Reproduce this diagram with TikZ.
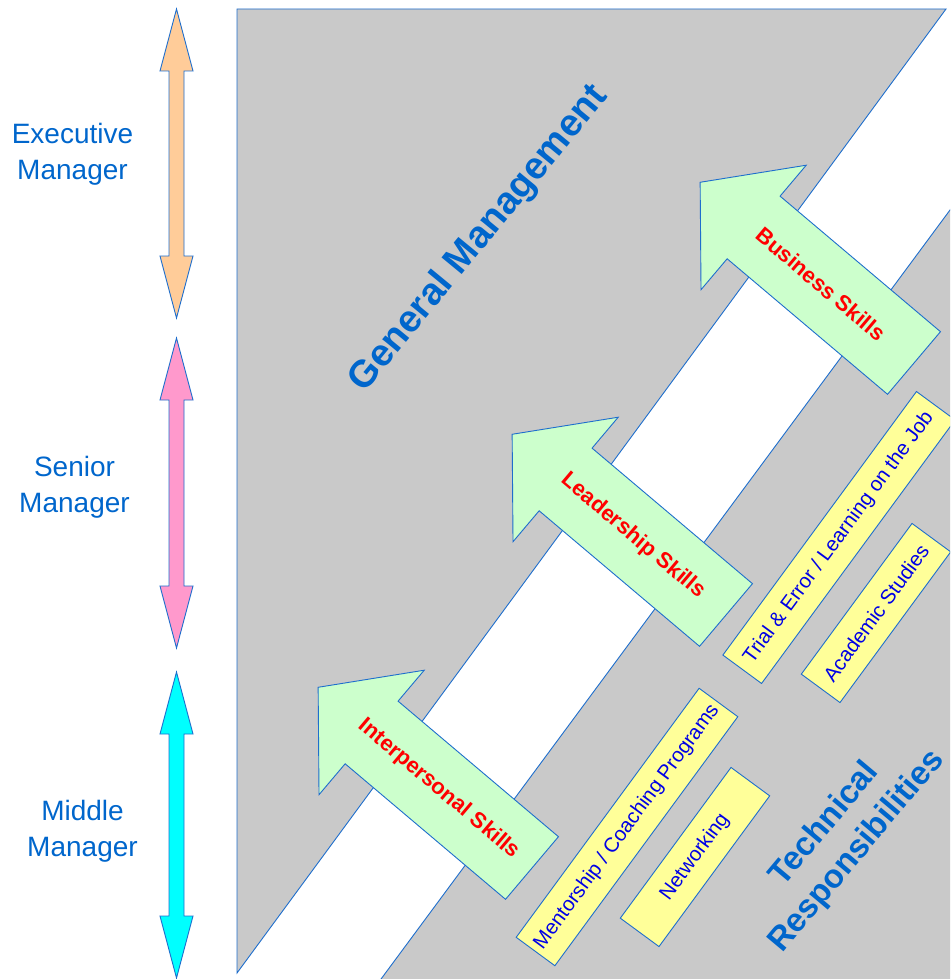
\documentclass[tikz,border=0pt]{standalone}
\usepackage{fontspec}
\setmainfont{Liberation Sans}
\definecolor{edgeblue}{RGB}{30,110,205}
\definecolor{bggray}{RGB}{201,201,201}
\definecolor{lblblue}{RGB}{0,102,204}
\definecolor{boxblue}{RGB}{0,0,230}
\definecolor{greenfill}{RGB}{204,255,204}
\definecolor{yellowfill}{RGB}{255,255,153}
\definecolor{orangefill}{RGB}{255,204,153}
\definecolor{pinkfill}{RGB}{255,153,204}
\definecolor{cyanfill}{RGB}{0,255,255}
\tikzset{
  edge/.style={draw=edgeblue, line width=0.9pt, line join=miter},
  garrow/.style={edge, fill=greenfill},
  dblarr/.style={edge},
  lbl/.style={text=lblblue, align=center, font=\fontsize{28}{36}\selectfont, inner sep=0pt},
  arrtxt/.style={text=red, font=\bfseries\fontsize{22}{26}\selectfont, rotate=-40.2, inner sep=0pt},
  ybox/.style={edge, fill=yellowfill, text=boxblue, font=\fontsize{20.4}{24}\selectfont, minimum height=48pt, inner sep=0pt, rotate=53.7},
  bigtxt/.style={text=lblblue, font=\bfseries\fontsize{38}{46}\selectfont, inner sep=0pt, align=center},
  greenarrow/.pic={\draw[garrow] (0,-41) -- (210,-41) -- (210,-81.5) -- (280,0) -- (210,81.5) -- (210,41) -- (0,41) -- cycle;}
}
\begin{document}
\begin{tikzpicture}[x=1pt,y=-1pt]
\useasboundingbox (0,0) rectangle (950,979);
\clip (0,0) rectangle (950,979);
% gray regions
\filldraw[edge, fill=bggray] (237,973) -- (237,9) -- (946,9) -- cycle;
\filldraw[edge, fill=bggray] (372.9,990) -- (960,196.5) -- (960,990) -- cycle;
% level arrows
\draw[dblarr, fill=orangefill] (176.5,9) -- (193,71) -- (184,71) -- (184,256) -- (193,256) -- (176.5,318) -- (160,256) -- (169,256) -- (169,71) -- (160,71) -- cycle;
\draw[dblarr, fill=pinkfill] (176.5,338) -- (193,400) -- (184,400) -- (184,586) -- (193,586) -- (176.5,648) -- (160,586) -- (169,586) -- (169,400) -- (160,400) -- cycle;
\draw[dblarr, fill=cyanfill] (176.5,672) -- (193,734) -- (184,734) -- (184,916) -- (193,916) -- (176.5,978) -- (160,916) -- (169,916) -- (169,734) -- (160,734) -- cycle;
% level labels
\node[lbl] (exec) at (72.5,154) {Executive\\Manager};
\node[lbl] (senior) at (74.5,487) {Senior\\Manager};
\node[lbl] (middle) at (82.5,831) {Middle\\Manager};
% big labels
\node[bigtxt, rotate=50.5] (gm) at (479,239) {General Management};
\node[bigtxt, font=\bfseries\fontsize{33}{42}\selectfont, rotate=50] (tr) at (841,838) {Technical\\Responsibilities};
% green arrows
\path (914,363) pic[rotate=139.8] {greenarrow};
\path (726,615) pic[rotate=139.8] {greenarrow};
\path (532,868) pic[rotate=139.8] {greenarrow};
\node[arrtxt] (bus) at (821,284) {Business Skills};
\node[arrtxt] (lead) at (633,536) {Leadership Skills};
\node[arrtxt] (inter) at (439,789) {Interpersonal Skills};
% yellow boxes
\node[ybox, minimum width=309pt] (mentor) at (627,827) {Mentorship / Coaching Programs};
\node[ybox, minimum width=187pt] (net) at (695,857) {Networking};
\node[ybox, minimum width=327pt] (trial) at (839,537.5) {Trial \& Error / Learning on the Job};
\node[ybox, minimum width=187pt] (acad) at (876,613) {Academic Studies};
\end{tikzpicture}
\end{document}
